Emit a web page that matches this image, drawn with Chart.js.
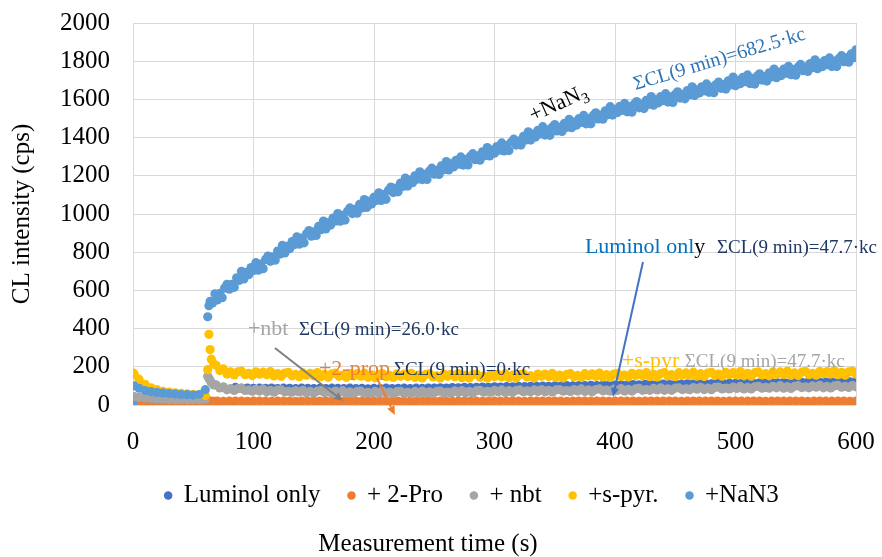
<!DOCTYPE html>
<html>
<head>
<meta charset="utf-8">
<script src="https://cdn.jsdelivr.net/npm/chart.js@4/dist/chart.umd.min.js"></script>
<style>
  html, body { margin: 0; padding: 0; background: #ffffff; }
  #wrap { width: 882px; height: 557px; }
</style>
</head>
<body>
<div id="wrap"><canvas id="c" width="882" height="557"></canvas></div>
<script>
// ---- Data ----
const seriesNames = ["Luminol only", "+ 2-Pro", "+ nbt", "+s-pyr.", "+NaN3"];

// sampling times (s), every 5 s after injection: Luminol only, + 2-Pro
const times = [0, 1, 5, 10, 15, 20, 25, 30, 35, 40, 45, 50, 55, 60,
  62, 63, 64, 65, 67,
  70, 75, 80, 85, 90, 95, 100, 105, 110, 115,
  120, 125, 130, 135, 140, 145, 150, 155, 160, 165,
  170, 175, 180, 185, 190, 195, 200, 205, 210, 215,
  220, 225, 230, 235, 240, 245, 250, 255, 260, 265,
  270, 275, 280, 285, 290, 295, 300, 305, 310, 315,
  320, 325, 330, 335, 340, 345, 350, 355, 360, 365,
  370, 375, 380, 385, 390, 395, 400, 405, 410, 415,
  420, 425, 430, 435, 440, 445, 450, 455, 460, 465,
  470, 475, 480, 485, 490, 495, 500, 505, 510, 515,
  520, 525, 530, 535, 540, 545, 550, 555, 560, 565,
  570, 575, 580, 585, 590, 595, 600];

// sampling times (s), every 3 s after injection: + nbt, +s-pyr.
const times3 = [0, 1, 5, 10, 15, 20, 25, 30, 35, 40, 45, 50, 55, 60,
  62, 63, 64, 65, 67,
  69, 72, 75, 78, 81, 84, 87, 90, 93, 96,
  99, 102, 105, 108, 111, 114, 117, 120, 123, 126,
  129, 132, 135, 138, 141, 144, 147, 150, 153, 156,
  159, 162, 165, 168, 171, 174, 177, 180, 183, 186,
  189, 192, 195, 198, 201, 204, 207, 210, 213, 216,
  219, 222, 225, 228, 231, 234, 237, 240, 243, 246,
  249, 252, 255, 258, 261, 264, 267, 270, 273, 276,
  279, 282, 285, 288, 291, 294, 297, 300, 303, 306,
  309, 312, 315, 318, 321, 324, 327, 330, 333, 336,
  339, 342, 345, 348, 351, 354, 357, 360, 363, 366,
  369, 372, 375, 378, 381, 384, 387, 390, 393, 396,
  399, 402, 405, 408, 411, 414, 417, 420, 423, 426,
  429, 432, 435, 438, 441, 444, 447, 450, 453, 456,
  459, 462, 465, 468, 471, 474, 477, 480, 483, 486,
  489, 492, 495, 498, 501, 504, 507, 510, 513, 516,
  519, 522, 525, 528, 531, 534, 537, 540, 543, 546,
  549, 552, 555, 558, 561, 564, 567, 570, 573, 576,
  579, 582, 585, 588, 591, 594, 597, 600];

const luminolOnly = [2, 3, 2, 3, 2, 3, 2, 3, 2, 3, 2, 3, 2, 3,
  3, 2, 3, 2, 3,
  2, 3, 4, 92, 88, 89, 87, 88, 87, 89,
  86, 88, 87, 86, 88, 87, 86, 87, 86, 88,
  87, 86, 88, 86, 87, 85, 87, 86, 88, 86,
  87, 88, 86, 88, 87, 89, 88, 90, 89, 91,
  90, 92, 91, 93, 94, 93, 95, 94, 96, 95,
  97, 96, 98, 97, 99, 98, 100, 99, 101, 100,
  102, 101, 103, 102, 104, 105, 104, 106, 105, 107,
  106, 108, 107, 108, 109, 108, 110, 109, 111, 110,
  111, 112, 111, 113, 112, 114, 113, 114, 115, 114,
  116, 115, 117, 116, 118, 117, 118, 119, 118, 120,
  119, 120, 121, 120, 122, 121, 122];

const twoPro = [18, 18, 19, 18, 19, 18, 19, 18, 19, 18, 19, 18, 19, 18,
  19, 20, 19, 20, 19,
  20, 19, 20, 21, 20, 19, 20, 21, 20, 19,
  20, 21, 20, 19, 20, 21, 20, 20, 21, 20,
  19, 20, 21, 20, 20, 19, 20, 21, 20, 20,
  21, 20, 19, 20, 21, 20, 20, 21, 20, 19,
  20, 21, 20, 20, 19, 20, 21, 20, 20, 21,
  20, 19, 20, 21, 20, 20, 21, 20, 19, 20,
  21, 20, 20, 21, 20, 19, 20, 21, 20, 20,
  19, 20, 21, 20, 20, 21, 20, 19, 20, 21,
  20, 20, 21, 20, 19, 20, 21, 20, 20, 21,
  20, 19, 20, 21, 20, 20, 21, 20, 19, 20,
  21, 20, 20, 21, 20, 19, 20];

const nbt = [42, 44, 40, 37, 34, 32, 30, 29, 28, 28, 27, 27, 28, 32,
  150, 140, 128, 118, 105,
  105, 89, 95, 80, 86, 76, 86, 87, 76, 79,
  72, 82, 73, 83, 69, 77, 67, 78, 79, 69,
  72, 67, 76, 68, 77, 64, 72, 63, 73, 75,
  65, 69, 63, 73, 65, 75, 61, 69, 60, 71,
  73, 62, 66, 61, 71, 63, 73, 60, 68, 59,
  70, 72, 62, 66, 61, 71, 63, 73, 61, 69,
  60, 71, 73, 64, 68, 63, 74, 66, 76, 64,
  72, 63, 75, 77, 67, 72, 67, 77, 69, 79,
  66, 75, 66, 77, 79, 69, 74, 69, 79, 71,
  81, 69, 77, 68, 79, 81, 72, 76, 71, 81,
  73, 84, 71, 79, 70, 81, 84, 74, 78, 73,
  83, 76, 86, 73, 82, 73, 84, 87, 77, 81,
  77, 87, 79, 90, 77, 85, 77, 88, 90, 81,
  85, 80, 91, 83, 93, 81, 89, 80, 92, 94,
  84, 89, 84, 94, 87, 97, 84, 93, 84, 95,
  98, 88, 92, 88, 98, 90, 101, 88, 96, 87,
  98, 101, 91, 95, 90, 100, 93, 103, 90, 98,
  89, 100, 103, 93, 97, 92, 103, 95];

const sPyr = [168, 162, 135, 108, 90, 80, 72, 68, 64, 61, 58, 56, 54, 50,
  185, 370, 290, 240, 215,
  208, 180, 189, 162, 173, 157, 174, 177, 159, 166,
  154, 174, 161, 172, 158, 175, 152, 165, 150, 167,
  171, 153, 160, 148, 168, 156, 166, 153, 170, 148,
  160, 145, 163, 167, 150, 156, 145, 165, 153, 164,
  151, 167, 145, 158, 143, 161, 165, 148, 155, 144,
  163, 151, 162, 149, 166, 144, 157, 142, 160, 164,
  147, 153, 142, 162, 150, 161, 148, 165, 143, 156,
  141, 159, 162, 145, 152, 141, 161, 149, 160, 147,
  164, 143, 156, 141, 159, 163, 146, 153, 142, 162,
  151, 162, 149, 166, 144, 157, 142, 160, 164, 148,
  155, 144, 164, 152, 163, 150, 167, 146, 159, 144,
  162, 166, 149, 157, 146, 166, 154, 165, 153, 170,
  148, 161, 146, 165, 169, 152, 159, 148, 169, 157,
  168, 155, 172, 151, 164, 149, 167, 171, 155, 162,
  151, 171, 159, 170, 157, 175, 153, 166, 151, 169,
  173, 157, 164, 153, 173, 161, 173, 160, 177, 155,
  168, 154, 172, 176, 159, 166, 156, 176, 164, 175,
  162, 179, 158, 171, 156, 174, 178, 161];

// sampling times (s), every 2 s after injection: +NaN3
const timesNaN3 = [0, 1, 5, 10, 15, 20, 25, 30, 35, 40, 45, 50, 55, 60, 62, 63,
  64, 66, 68, 70, 72, 74, 76, 78, 80, 82,
  84, 86, 88, 90, 92, 94, 96, 98, 100, 102,
  104, 106, 108, 110, 112, 114, 116, 118, 120, 122,
  124, 126, 128, 130, 132, 134, 136, 138, 140, 142,
  144, 146, 148, 150, 152, 154, 156, 158, 160, 162,
  164, 166, 168, 170, 172, 174, 176, 178, 180, 182,
  184, 186, 188, 190, 192, 194, 196, 198, 200, 202,
  204, 206, 208, 210, 212, 214, 216, 218, 220, 222,
  224, 226, 228, 230, 232, 234, 236, 238, 240, 242,
  244, 246, 248, 250, 252, 254, 256, 258, 260, 262,
  264, 266, 268, 270, 272, 274, 276, 278, 280, 282,
  284, 286, 288, 290, 292, 294, 296, 298, 300, 302,
  304, 306, 308, 310, 312, 314, 316, 318, 320, 322,
  324, 326, 328, 330, 332, 334, 336, 338, 340, 342,
  344, 346, 348, 350, 352, 354, 356, 358, 360, 362,
  364, 366, 368, 370, 372, 374, 376, 378, 380, 382,
  384, 386, 388, 390, 392, 394, 396, 398, 400, 402,
  404, 406, 408, 410, 412, 414, 416, 418, 420, 422,
  424, 426, 428, 430, 432, 434, 436, 438, 440, 442,
  444, 446, 448, 450, 452, 454, 456, 458, 460, 462,
  464, 466, 468, 470, 472, 474, 476, 478, 480, 482,
  484, 486, 488, 490, 492, 494, 496, 498, 500, 502,
  504, 506, 508, 510, 512, 514, 516, 518, 520, 522,
  524, 526, 528, 530, 532, 534, 536, 538, 540, 542,
  544, 546, 548, 550, 552, 554, 556, 558, 560, 562,
  564, 566, 568, 570, 572, 574, 576, 578, 580, 582,
  584, 586, 588, 590, 592, 594, 596, 598, 600];

const naN3 = [0, 100, 88, 76, 70, 66, 63, 60, 58, 55, 54, 52, 55, 80, 462, 520,
  543, 534, 582, 550, 584, 562, 612, 632, 606, 632,
  616, 666, 652, 700, 660, 694, 682, 720, 704, 745,
  706, 738, 714, 762, 780, 752, 776, 758, 806, 790,
  836, 796, 830, 818, 856, 840, 881, 842, 874, 849,
  896, 913, 884, 907, 888, 935, 918, 963, 922, 955,
  942, 979, 962, 1002, 962, 993, 968, 1015, 1032, 1002,
  1024, 1004, 1050, 1032, 1076, 1034, 1066, 1052, 1088, 1071,
  1111, 1071, 1102, 1077, 1124, 1141, 1112, 1135, 1116, 1162,
  1144, 1188, 1146, 1178, 1164, 1200, 1182, 1221, 1180, 1208,
  1181, 1225, 1240, 1208, 1229, 1207, 1252, 1232, 1275, 1231,
  1262, 1246, 1281, 1261, 1299, 1256, 1285, 1257, 1302, 1316,
  1284, 1304, 1282, 1326, 1306, 1348, 1304, 1334, 1318, 1353,
  1334, 1372, 1330, 1359, 1332, 1377, 1392, 1361, 1382, 1361,
  1406, 1387, 1430, 1387, 1418, 1403, 1438, 1419, 1457, 1413,
  1440, 1412, 1455, 1468, 1435, 1454, 1432, 1475, 1454, 1496,
  1452, 1481, 1465, 1499, 1479, 1516, 1472, 1500, 1472, 1516,
  1530, 1498, 1518, 1496, 1540, 1520, 1562, 1518, 1548, 1531,
  1564, 1543, 1579, 1535, 1562, 1533, 1576, 1589, 1556, 1575,
  1552, 1595, 1574, 1615, 1570, 1599, 1582, 1615, 1594, 1630,
  1586, 1613, 1584, 1627, 1640, 1607, 1626, 1603, 1646, 1625,
  1666, 1621, 1650, 1633, 1666, 1645, 1681, 1637, 1664, 1635,
  1678, 1691, 1658, 1677, 1654, 1697, 1676, 1717, 1672, 1700,
  1682, 1715, 1693, 1728, 1683, 1709, 1680, 1722, 1734, 1701,
  1720, 1696, 1739, 1718, 1759, 1714, 1742, 1725, 1758, 1737,
  1773, 1729, 1756, 1727, 1770, 1783, 1750, 1769, 1746, 1788,
  1766, 1807, 1761, 1789, 1771, 1803, 1782, 1817, 1772, 1800,
  1772, 1815, 1829, 1797, 1817, 1795, 1838, 1818, 1860];

const xTicks = [0, 100, 200, 300, 400, 500, 600];
const yTicks = [0, 200, 400, 600, 800, 1000, 1200, 1400, 1600, 1800, 2000];

// ---- Styles ----
const colors = ["#4472C4", "#ED7D31", "#A5A5A5", "#FFC000", "#5B9BD5"];
const drawOrder = [5, 4, 3, 2, 1];
const serif = "'Liberation Serif', 'Times New Roman', serif";

// annotation texts, positioned in data units
const NAVY = "#1F3864";
const notes = [
  { x: 332, y: 1482, rot: -24.6, parts: [{ t: "+NaN", c: "#000000", s: 22 }, { t: "3", c: "#000000", s: 15, sub: true }] },
  { x: 417, y: 1649, rot: -16.6, parts: [{ t: "ΣCL(9 min)=682.5·kc", c: "#2E75B6", s: 20 }] },
  { x: 375, y: 796, rot: 0, parts: [{ t: "Luminol onl", c: "#0070C0", s: 22 }, { t: "y", c: "#000000", s: 22 }] },
  { x: 484.6, y: 796, rot: 0, parts: [{ t: "ΣCL(9 min)=47.7·kc", c: NAVY, s: 19 }] },
  { x: 95.4, y: 366.5, rot: 0, parts: [{ t: "+nbt", c: "#A5A5A5", s: 22 }] },
  { x: 137.7, y: 366.5, rot: 0, parts: [{ t: "ΣCL(9 min)=26.0·kc", c: NAVY, s: 19 }] },
  { x: 154.3, y: 157, rot: 0, parts: [{ t: "+2-prop", c: "#ED7D31", s: 22 }] },
  { x: 216.5, y: 157, rot: 0, parts: [{ t: "ΣCL(9 min)=0·kc", c: NAVY, s: 19 }] },
  { x: 405.6, y: 199, rot: 0, parts: [{ t: "+s-pyr", c: "#FFC000", s: 22 }] },
  { x: 457.9, y: 199, rot: 0, parts: [{ t: "ΣCL(9 min)=47.7·kc", c: "#A5A5A5", s: 19 }] }
];
const arrows = [
  { x1: 423.2, y1: 748.7, x2: 398.3, y2: 41.9, c: "#4472C4" },
  { x1: 117.8, y1: 298.4, x2: 174.3, y2: 20.9, c: "#7F7F7F" },
  { x1: 202.4, y1: 141.4, x2: 217.3, y2: -52.4, c: "#ED7D31" }
];
const LEGEND_SHIFT = 44;

const annotationPlugin = {
  id: "notes",
  afterLayout(chart) {
    if (chart.legend) {
      chart.legend.left += LEGEND_SHIFT;
      chart.legend.right += LEGEND_SHIFT;
    }
  },
  afterDatasetsDraw(chart) {
    const ctx = chart.ctx, xs = chart.scales.x, ys = chart.scales.y;
    ctx.save();
    arrows.forEach(a => {
      const x1 = xs.getPixelForValue(a.x1), y1 = ys.getPixelForValue(a.y1);
      const x2 = xs.getPixelForValue(a.x2), y2 = ys.getPixelForValue(a.y2);
      const ang = Math.atan2(y2 - y1, x2 - x1);
      const head = 9, hw = 4;
      const bx = x2 - head * Math.cos(ang), by = y2 - head * Math.sin(ang);
      ctx.strokeStyle = a.c; ctx.fillStyle = a.c; ctx.lineWidth = 2;
      ctx.beginPath(); ctx.moveTo(x1, y1); ctx.lineTo(bx, by); ctx.stroke();
      ctx.beginPath();
      ctx.moveTo(x2, y2);
      ctx.lineTo(bx + hw * Math.sin(ang), by - hw * Math.cos(ang));
      ctx.lineTo(bx - hw * Math.sin(ang), by + hw * Math.cos(ang));
      ctx.closePath(); ctx.fill();
    });
    notes.forEach(n => {
      const px = xs.getPixelForValue(n.x), py = ys.getPixelForValue(n.y);
      ctx.save();
      ctx.translate(px, py);
      ctx.rotate(n.rot * Math.PI / 180);
      ctx.textBaseline = "alphabetic";
      ctx.textAlign = "left";
      let cx = 0;
      n.parts.forEach(p => {
        ctx.font = p.s + "px " + serif;
        ctx.fillStyle = p.c;
        ctx.fillText(p.t, cx, p.sub ? 5 : 0);
        cx += ctx.measureText(p.t).width;
      });
      ctx.restore();
    });
    ctx.restore();
  }
};

const seriesValues = [luminolOnly, twoPro, nbt, sPyr, naN3];
const seriesTimes = [times, times, times3, times3, timesNaN3];
const datasets = seriesNames.map((name, i) => ({
  label: name,
  data: seriesTimes[i].map((t, k) => ({ x: t, y: seriesValues[i][k] })),
  backgroundColor: colors[i],
  borderColor: colors[i],
  pointRadius: 4.6,
  pointBorderWidth: 0,
  pointHoverRadius: 4.6,
  showLine: false,
  order: drawOrder[i]
}));

new Chart(document.getElementById("c"), {
  type: "scatter",
  data: { datasets },
  plugins: [annotationPlugin],
  options: {
    responsive: false,
    animation: false,
    devicePixelRatio: 1,
    layout: { padding: { left: 0, right: 26, top: 23, bottom: 0 } },
    plugins: {
      tooltip: { enabled: false },
      legend: {
        position: "bottom",
        labels: {
          usePointStyle: true,
          pointStyle: "circle",
          boxWidth: 6,
          boxHeight: 6,
          padding: 28,
          color: "#000000",
          font: { family: serif, size: 25 },
          sort: (a, b) => a.datasetIndex - b.datasetIndex
        }
      },
      title: {
        display: true,
        position: "bottom",
        text: "Measurement time (s)",
        color: "#000000",
        font: { family: serif, size: 25, weight: "normal", lineHeight: 1 },
        padding: { top: 13.5, bottom: 0.5 }
      }
    },
    scales: {
      x: {
        type: "linear",
        min: 0, max: 600,
        afterBuildTicks: s => { s.ticks = xTicks.map(v => ({ value: v })); },
        afterFit: s => { s.height = 50; s.paddingLeft = 0; s.paddingRight = 0; },
        grid: { color: "#D9D9D9", lineWidth: 1, drawTicks: false },
        border: { display: false },
        ticks: { color: "#000000", font: { family: serif, size: 25 }, padding: 22, maxRotation: 0,
                 callback: v => String(v) }
      },
      y: {
        type: "linear",
        min: 0, max: 2000,
        afterBuildTicks: s => { s.ticks = yTicks.map(v => ({ value: v })); },
        afterFit: s => { s.width = 133; s.paddingTop = 0; s.paddingBottom = 0; },
        grid: { color: "#D9D9D9", lineWidth: 1, drawTicks: false },
        border: { display: false },
        ticks: { color: "#000000", font: { family: serif, size: 25 }, padding: 23,
                 callback: v => String(v) },
        title: {
          display: true,
          text: "CL intensity (cps)",
          color: "#000000",
          font: { family: serif, size: 25 },
          padding: { top: 7, bottom: 22 }
        }
      }
    }
  }
});
</script>
</body>
</html>
